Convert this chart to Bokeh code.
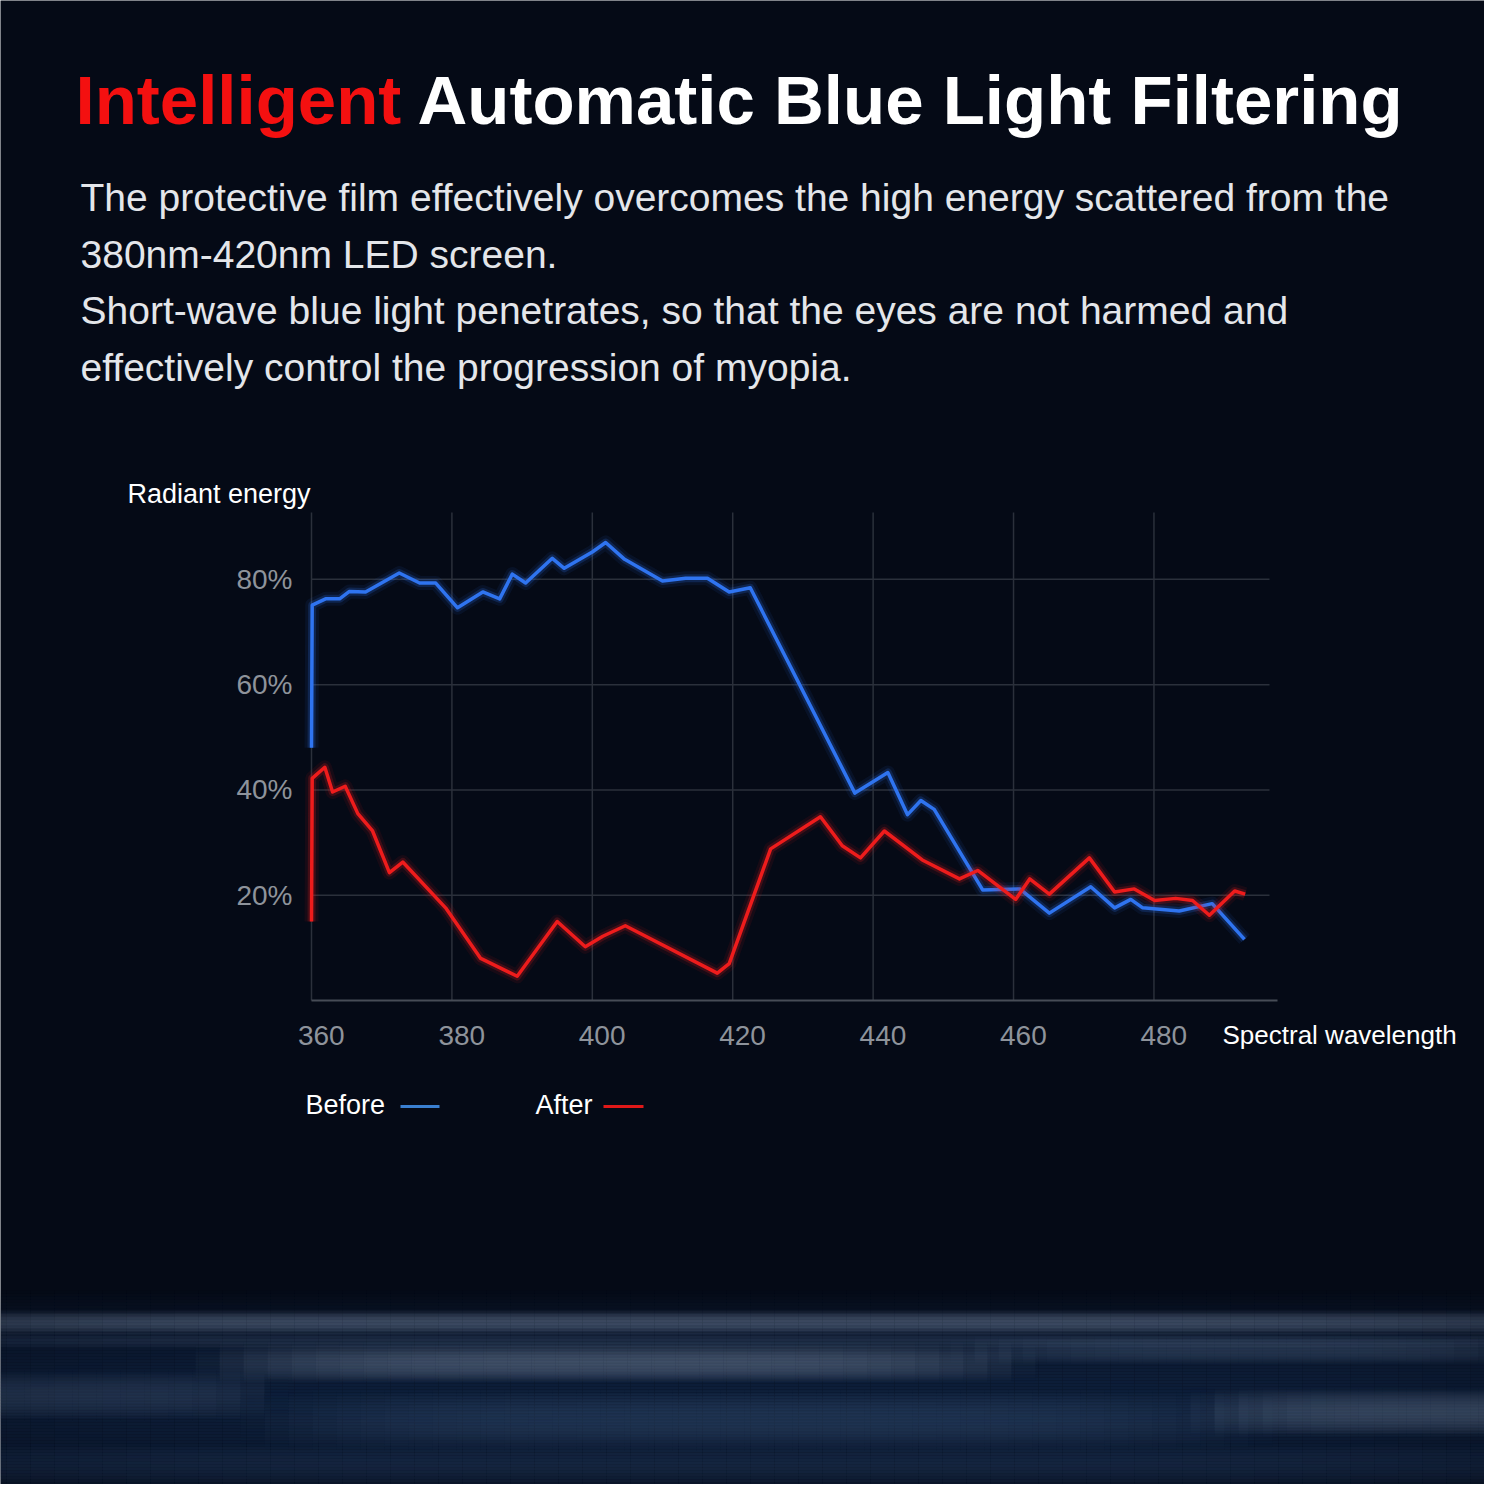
from bokeh.plotting import figure
from bokeh.models import Range1d, LinearAxis, FixedTicker
from bokeh.core.properties import value
from bokeh.embed import file_html
from bokeh.resources import INLINE

# ---------------- data ----------------
x_ticks = [360, 380, 400, 420, 440, 460, 480]
y_ticks = [20, 40, 60, 80]
y_tick_labels = ["20%", "40%", "60%", "80%"]

before_x = [360.0, 360.1, 362.0, 364.0, 365.4, 367.7, 372.5, 375.4, 377.7, 380.8,
            384.4, 386.8, 388.6, 390.5, 394.3, 396.0, 400.0, 401.9, 404.6, 410.0,
            413.3, 416.4, 419.5, 422.5, 437.4, 442.1, 444.9, 446.8, 448.7, 455.6,
            460.9, 465.1, 471.0, 474.4, 476.7, 478.4, 483.6, 488.3, 492.9]
before_y = [48.0, 75.1, 76.3, 76.3, 77.7, 77.6, 81.2, 79.3, 79.3, 74.6,
            77.6, 76.3, 81.0, 79.3, 84.0, 82.1, 85.2, 87.0, 83.8, 79.7,
            80.2, 80.2, 77.6, 78.4, 39.4, 43.3, 35.3, 38.0, 36.3, 21.0,
            21.2, 16.6, 21.6, 17.6, 19.2, 17.6, 17.0, 18.4, 11.6]

after_x = [360.0, 360.1, 361.9, 363.0, 364.8, 366.6, 368.7, 371.1, 373.0, 379.1,
           384.1, 389.3, 395.0, 399.0, 401.5, 404.7, 417.8, 419.5, 425.4, 432.5,
           435.6, 438.2, 441.6, 447.0, 452.3, 454.9, 460.3, 462.3, 465.1, 470.8,
           474.4, 477.2, 480.1, 483.1, 485.5, 487.9, 491.5, 493.0]
after_y = [15.0, 42.2, 44.3, 39.6, 40.7, 35.5, 32.2, 24.3, 26.3, 17.6,
           8.0, 4.6, 15.0, 10.2, 12.2, 14.2, 5.2, 7.0, 28.8, 34.9,
           29.4, 27.1, 32.2, 26.7, 23.1, 24.7, 19.2, 23.1, 20.2, 27.1,
           20.6, 21.2, 19.0, 19.4, 19.0, 16.2, 20.8, 20.2]

title_red = "Intelligent"
title_white = "Automatic Blue Light Filtering"
body_lines = [
    "The protective film effectively overcomes the high energy scattered from the",
    "380nm-420nm LED screen.",
    "Short-wave blue light penetrates, so that the eyes are not harmed and",
    "effectively control the progression of myopia.",
]
y_title = "Radiant energy"
x_title = "Spectral wavelength"
legend_names = ["Before", "After"]

# ---------------- style / layout ----------------
W = H = 1484
BG = "#050a16"
BLUE = "#2f74f0"
RED = "#ee1c1c"
GRID = "#2b303b"
FONT = "Liberation Sans"

# chart area inside the canvas (pixels, from top-left)
FL, FR, FT, FB = 311, 1277, 512, 1000
X0, X1 = 360.0, 497.6       # nm range of the chart area
Y0, Y1 = 0.0, 92.7          # % range of the chart area
kx = (FR - FL) / (X1 - X0)
ky = (FB - FT) / (Y1 - Y0)

p = figure(width=W, height=H, output_backend="svg", toolbar_location=None,
           x_range=Range1d(0, W), y_range=Range1d(H, 0),
           x_axis_location=None, y_axis_location=None,
           min_border=0, min_border_left=0, min_border_right=0,
           min_border_top=0, min_border_bottom=0,
           background_fill_color=BG, border_fill_color=BG,
           outline_line_color=None)
p.grid.visible = False

p.extra_x_ranges = {
    "nm": Range1d(X0 - FL / kx, X0 + (W - FL) / kx),
    "lab": Range1d(X0 - FL / kx - 1.4, X0 + (W - FL) / kx - 1.4),
}
p.extra_y_ranges = {"pct": Range1d(Y0 - (H - FB) / ky, Y0 + FB / ky)}

# ---- decorative background glow (bottom particle wave), soft bands ----
def band(xc, xhalf, yc, yhalf, color, peak, xstep=24, ystep=3):
    L, R, T, B, A = [], [], [], [], []
    x = xc - xhalf
    while x < xc + xhalf:
        dx = abs(x + xstep / 2 - xc) / xhalf
        ax = max(0.0, 1 - dx ** 4)
        y = yc - yhalf
        while y < yc + yhalf:
            dy = abs(y + ystep / 2 - yc) / yhalf
            a = peak * ax * max(0.0, 1 - dy * dy)
            if a > 0.004:
                L.append(x); R.append(x + xstep); T.append(y); B.append(y + ystep); A.append(a)
            y += ystep
        x += xstep
    p.quad(left=L, right=R, top=T, bottom=B, fill_color=color, fill_alpha=A, line_color=None)

band(742, 1000, 1400, 110, "#0f2240", 0.85)
band(742, 1000, 1322, 12, "#8ea2bf", 0.38)
band(742, 1000, 1340, 8, "#6f86a8", 0.18)
band(615, 420, 1362, 20, "#a9bad0", 0.32)
band(80, 200, 1395, 25, "#7d95b6", 0.18)
band(1250, 300, 1350, 14, "#7f98b8", 0.22)
band(1420, 230, 1412, 24, "#a4b8cf", 0.26)
band(760, 520, 1420, 30, "#5f80aa", 0.22)
band(742, 1000, 1465, 22, "#3c5a85", 0.20)

# ---- gridlines ----
p.segment(x0=x_ticks, y0=[Y0] * len(x_ticks), x1=x_ticks, y1=[Y1] * len(x_ticks),
          x_range_name="nm", y_range_name="pct", line_color=GRID, line_width=1.5)
p.segment(x0=[X0] * len(y_ticks), y0=y_ticks, x1=[X0 + (1269 - FL) / kx] * len(y_ticks), y1=y_ticks,
          x_range_name="nm", y_range_name="pct", line_color=GRID, line_width=1.5)

# ---- axes at fixed locations ----
xline = LinearAxis(x_range_name="nm", y_range_name="pct", fixed_location=0,
                   bounds=(X0, X1), ticker=FixedTicker(ticks=[]))
xline.axis_line_color = "#474c56"
xline.axis_line_width = 2
xline.major_tick_line_color = None
xline.minor_tick_line_color = None
xline.major_label_text_font_size = "0px"
p.add_layout(xline, "below")

xa = LinearAxis(x_range_name="lab", y_range_name="pct", fixed_location=0,
                bounds=(X0 - 1.4, X1 - 1.4), ticker=FixedTicker(ticks=x_ticks))
xa.axis_line_color = None
xa.major_tick_line_color = None
xa.minor_tick_line_color = None
xa.major_tick_out = 0
xa.major_label_standoff = 25
xa.major_label_text_font = FONT
xa.major_label_text_font_size = "28px"
xa.major_label_text_color = "#8e939b"
p.add_layout(xa, "below")

ya = LinearAxis(x_range_name="nm", y_range_name="pct", fixed_location=X0,
                bounds=(Y0, Y1), ticker=FixedTicker(ticks=y_ticks))
ya.major_label_overrides = {t: l for t, l in zip(y_ticks, y_tick_labels)}
ya.axis_line_color = None
ya.major_tick_line_color = None
ya.minor_tick_line_color = None
ya.major_tick_out = 0
ya.major_label_standoff = 19
ya.major_label_text_font = FONT
ya.major_label_text_font_size = "28px"
ya.major_label_text_color = "#8e939b"
p.add_layout(ya, "left")

# ---- data lines with glow ----
for xs, ys, c in [(before_x, before_y, BLUE), (after_x, after_y, RED)]:
    p.line(xs, ys, x_range_name="nm", y_range_name="pct", line_color=c,
           line_width=14, line_alpha=0.08, line_join="round")
    p.line(xs, ys, x_range_name="nm", y_range_name="pct", line_color=c,
           line_width=8, line_alpha=0.2, line_join="round")
    p.line(xs, ys, x_range_name="nm", y_range_name="pct", line_color=c,
           line_width=3.5, line_alpha=1.0, line_join="round")

# ---- texts (canvas pixel coordinates) ----
def txt(x, y, text, size, color, bold=False, baseline="middle"):
    p.text(x=[x], y=[y], text=[text], text_font=value(FONT), text_font_size=size,
           text_color=color, text_font_style="bold" if bold else "normal",
           text_baseline=baseline, text_align="left")

txt(75, 100, title_red, "69px", "#f41010", bold=True)
txt(417, 100, title_white, "69px", "#ffffff", bold=True)
for i, line in enumerate(body_lines):
    txt(80, 197 + 56.7 * i, line, "39px", "#e4e6ea")

txt(127, 493, y_title, "27px", "#ffffff")
txt(1222, 1034, x_title, "26px", "#ffffff")
txt(305, 1104, legend_names[0], "27px", "#ffffff")
txt(535, 1104, legend_names[1], "27px", "#ffffff")
p.segment(x0=[400], y0=[1106], x1=[439], y1=[1106], line_color="#3a7fd0", line_width=3)
p.segment(x0=[603], y0=[1106], x1=[643], y1=[1106], line_color="#e01818", line_width=3)

open("out.html", "w").write(file_html(p, INLINE))
